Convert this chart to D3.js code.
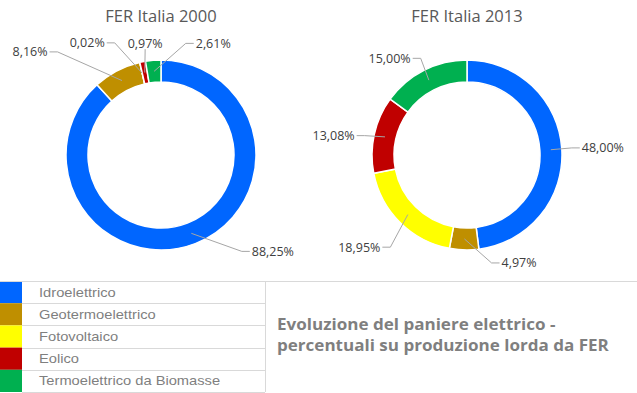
<!DOCTYPE html>
<html><head><meta charset="utf-8">
<script src="https://cdn.jsdelivr.net/npm/d3@7"></script>
<style>html,body{margin:0;padding:0;background:#fff;overflow:hidden}</style>
</head><body>
<svg id="chart" width="637" height="393"></svg>
<script>
// ---- data ----
const categories = ["Idroelettrico", "Geotermoelettrico", "Fotovoltaico", "Eolico", "Termoelettrico da Biomasse"];
const chartTitles = ["FER Italia 2000", "FER Italia 2013"];
const values2000 = [88.25, 8.16, 0.02, 0.97, 2.61];
const values2013 = [48.00, 4.97, 18.95, 13.08, 15.00];
const subtitleLines = ["Evoluzione del paniere elettrico -", "percentuali su produzione lorda da FER"];

// ---- style / layout ----
const colors = ["#0066ff", "#bf8f00", "#ffff00", "#c00000", "#00b050"];
const W = 637, H = 393;
const centers = [[161, 155], [467, 155]];
const outerR = 95, innerR = 73, labelR = 113;
// per-label nudges (best-fit placement of data labels)
const nudges = [
  [[48, -9], [-59, -3], [-29, -2], [6, -1], [42, 1]],
  [[0, 0], [36, -5], [-5, 12], [0, 5], [-3, 4]]
];

const svg = d3.select("#chart");
const locale = d3.formatLocale({decimal: ",", thousands: ".", grouping: [3], currency: ["", "€"]});
const fmt = v => locale.format(".2f")(v) + "%";

const pie = d3.pie().sort(null).value(d => d);
const arc = d3.arc().innerRadius(innerR).outerRadius(outerR);
const midArc = d3.arc().innerRadius((innerR + outerR) / 2).outerRadius((innerR + outerR) / 2);

[values2000, values2013].forEach((vals, ci) => {
  const [cx, cy] = centers[ci];
  const g = svg.append("g").attr("transform", `translate(${cx},${cy})`);
  svg.append("text").attr("x", cx).attr("y", 22).attr("text-anchor", "middle")
    .attr("font-family", "Open Sans").attr("font-size", 16.5).attr("fill", "#595959")
    .text(chartTitles[ci]);
  const arcs = pie(vals);
  g.selectAll("path.slice").data(arcs).join("path").attr("class", "slice")
    .attr("d", arc).attr("fill", (d, i) => colors[i])
    .attr("stroke", "#fff").attr("stroke-width", 1.5);

  arcs.forEach((d, i) => {
    const a = (d.startAngle + d.endAngle) / 2;
    const anchor = midArc.centroid(d);
    const def = [labelR * Math.sin(a), -labelR * Math.cos(a)];
    const L = [def[0] + nudges[ci][i][0], def[1] + nudges[ci][i][1]];
    let pts, tx, ta;
    if (Math.abs(L[0] - anchor[0]) < 10) {
      ta = "middle"; tx = L[0];
      pts = [[L[0], L[1] + 6], anchor];
    } else if (L[0] > 0) {
      ta = "start"; tx = L[0] + 2;
      pts = [L, [L[0] - 8, L[1]], anchor];
    } else {
      ta = "end"; tx = L[0] - 2;
      pts = [L, [L[0] + 8, L[1]], anchor];
    }
    g.append("path").attr("d", d3.line()(pts)).attr("fill", "none")
      .attr("stroke", "#a6a6a6").attr("stroke-width", 1);
    g.append("text").attr("x", tx).attr("y", L[1]).attr("dy", "0.35em")
      .attr("text-anchor", ta).attr("font-family", "Open Sans").attr("font-size", 12.5)
      .attr("fill", "#404040").text(fmt(vals[i]));
  });
});

// ---- legend table ----
const legTop = 281, rowH = 22.2, colorW = 22, tableRight = 265;
const lg = svg.append("g");
const rowY = d3.scaleBand().domain(categories).range([legTop, legTop + rowH * categories.length]);
lg.selectAll("rect.sw").data(categories).join("rect").attr("class", "sw")
  .attr("x", 0).attr("y", d => rowY(d)).attr("width", colorW).attr("height", rowY.bandwidth())
  .attr("fill", (d, i) => colors[i]);
lg.append("line").attr("x1", 0).attr("x2", W).attr("y1", legTop + 0.5).attr("y2", legTop + 0.5)
  .attr("stroke", "#d9d9d9");
lg.selectAll("line.row").data(categories).join("line").attr("class", "row")
  .attr("x1", colorW).attr("x2", tableRight)
  .attr("y1", d => Math.round(rowY(d) + rowY.bandwidth()) + 0.5)
  .attr("y2", d => Math.round(rowY(d) + rowY.bandwidth()) + 0.5)
  .attr("stroke", "#d9d9d9");
lg.append("line").attr("x1", tableRight + 0.5).attr("x2", tableRight + 0.5)
  .attr("y1", legTop).attr("y2", legTop + rowH * categories.length).attr("stroke", "#d9d9d9");
lg.selectAll("text.lt").data(categories).join("text").attr("class", "lt")
  .attr("transform", d => `translate(39,${rowY(d) + rowY.bandwidth() / 2}) scale(1.13,1)`)
  .attr("dy", "0.35em").attr("font-family", "Liberation Sans").attr("font-size", 13)
  .attr("fill", "#7f7f7f").text(d => d);

// ---- subtitle ----
svg.append("g").selectAll("text").data(subtitleLines).join("text")
  .attr("transform", (d, i) => `translate(277,${330 + i * 21}) scale(1.1,1)`)
  .attr("font-family", "Open Sans").attr("font-weight", 700).attr("font-size", 15.5)
  .attr("fill", "#7f7f7f").text(d => d);
</script>
</body></html>
